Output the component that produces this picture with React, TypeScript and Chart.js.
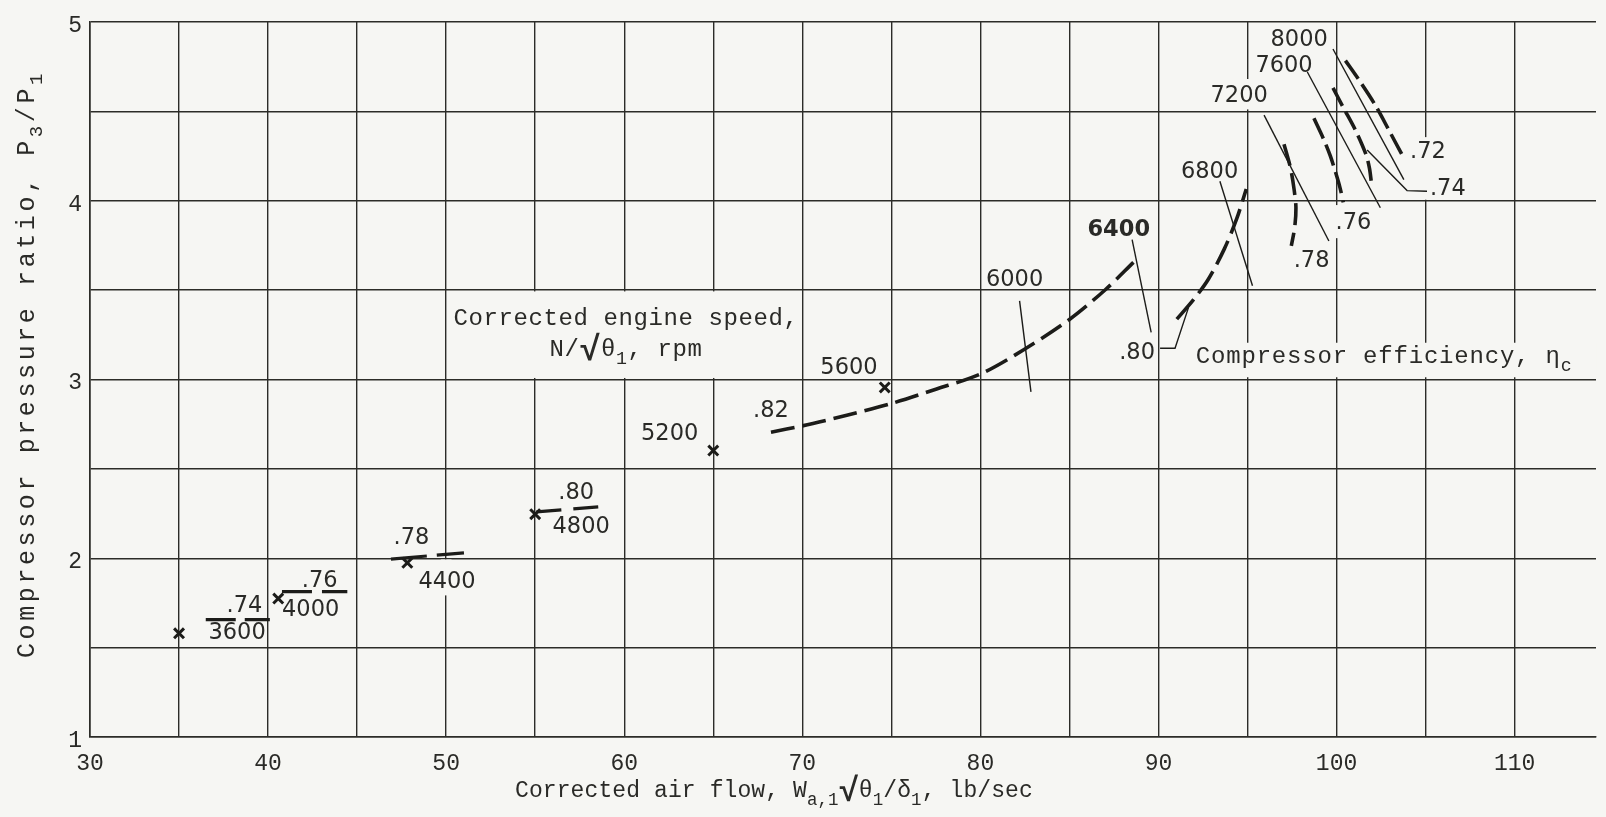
import React, { useEffect, useRef } from 'react';
import { Chart, registerables } from 'chart.js';

Chart.register(...registerables);

// ---------- data ----------
// Measured operating points (x = corrected air flow, y = pressure ratio)
const pointX = [35.0, 40.57, 47.82, 55.0, 65.0, 74.63];
const pointY = [1.58, 1.774, 1.974, 2.246, 2.602, 2.955];

// Efficiency contour 0.82 (long dashed curve)
const eff82X = [68.24, 70, 72.5, 75, 77.5, 80, 82.5, 85, 87, 88.6];
const eff82Y = [2.705, 2.74, 2.8, 2.865, 2.945, 3.03, 3.17, 3.335, 3.5, 3.655];

// Efficiency contour 0.80 at high speed
const eff80X = [91.03, 92.0, 92.8, 93.7, 94.4, 94.93];
const eff80Y = [3.337, 3.45, 3.56, 3.73, 3.9, 4.065];

// High-speed efficiency contours
const eff78X = [97.05, 97.42, 97.62, 97.72, 97.65, 97.46];
const eff78Y = [4.315, 4.18, 4.06, 3.96, 3.85, 3.747];
const eff76X = [98.73, 99.29, 99.65, 99.94, 100.2, 100.38];
const eff76Y = [4.46, 4.34, 4.25, 4.16, 4.07, 3.99];
const eff74X = [99.8, 100.41, 101.06, 101.66, 101.85, 101.96];
const eff74Y = [4.63, 4.515, 4.394, 4.256, 4.18, 4.098];
const eff72X = [100.5, 101.34, 102.18, 102.94, 103.68];
const eff72Y = [4.783, 4.663, 4.533, 4.394, 4.256];

// Short efficiency segments at low speeds (3600, 4000, 4400, 4800 rpm)
const lowEffX = [[36.5, 40.1], [40.78, 44.45], [46.9, 51.0], [55.07, 58.77]];
const lowEffY = [[1.657, 1.657], [1.813, 1.813], [1.995, 2.03], [2.259, 2.289]];

// Leader lines
const leaderX = [[82.2, 82.84], [88.52, 89.59], [90.09, 90.93, 91.68], [93.45, 95.28], [95.93, 99.57], [98.36, 102.46], [99.8, 103.78], [101.72, 103.96, 105.08]];
const leaderY = [[3.439, 2.93], [3.782, 3.263], [3.174, 3.174, 3.4], [4.108, 3.524], [4.478, 3.774], [4.719, 3.96], [4.848, 4.117], [4.283, 4.056, 4.052]];

// Speed labels
const speedLabels = ['3600', '4000', '4400', '4800', '5200', '5600', '6000', '6400', '6800', '7200', '7600', '8000'];
const speedLabelX = [38.26, 42.39, 50.05, 57.58, 62.55, 72.62, 81.92, 87.77, 92.87, 94.53, 97.05, 97.9];
const speedLabelY = [1.595, 1.721, 1.879, 2.186, 2.708, 3.074, 3.571, 3.848, 4.175, 4.597, 4.763, 4.909];

// Efficiency labels
const effLabels = ['.74', '.76', '.78', '.80', '.82', '.80', '.78', '.76', '.74', '.72'];
const effLabelX = [38.67, 42.9, 48.05, 57.3, 68.24, 88.8, 98.6, 100.95, 106.25, 105.13];
const effLabelY = [1.746, 1.885, 2.126, 2.378, 2.838, 3.161, 3.672, 3.885, 4.08, 4.283];

// Places where the grid is interrupted by lettering [x1, x2, y1, y2]
const gridGaps = [
  [50.08, 69.92, 3.008, 3.492],
  [94.7, 95.3, 4.51, 4.68],
  [99.7, 100.3, 3.79, 3.975],
  [104.7, 105.3, 4.005, 4.355],
  [92.5, 114.6, 3.012, 3.205],
  [49.7, 50.3, 1.792, 1.993],
];

// Axis ranges / ticks
const xMin = 30;
const xMax = 114.57;
const xStep = 5;
const xLabelEvery = 10;
const yMin = 1;
const yMax = 5;
const yStep = 0.5;

// ---------- styles ----------
const BG = '#f6f6f3';
const INK = '#1c1c19';
const GRID = '#2c2c28';
const TEXT = '#2a2a27';
const MONO = '"Liberation Mono", "DejaVu Sans Mono", monospace';
const SANS = '"DejaVu Sans", "Liberation Sans", sans-serif';

type Seg = { t: string; sub?: boolean; big?: boolean };

function drawRich(ctx: CanvasRenderingContext2D, segs: Seg[], x: number, y: number, size: number, spacing: number, align: 'left' | 'center') {
  const items = segs.map((s) => {
    const fs = s.sub ? size * 0.76 : s.big ? size * 1.45 : size;
    const font = `${s.big ? 'bold ' : ''}${fs}px ${MONO}`;
    const dy = s.sub ? size * 0.33 : s.big ? size * 0.16 : 0;
    return { t: s.t, font, dy };
  });
  let total = 0;
  for (const it of items) {
    ctx.font = it.font;
    for (const ch of it.t) total += ctx.measureText(ch).width + spacing;
  }
  let cx = align === 'center' ? x - total / 2 : x;
  ctx.textAlign = 'left';
  ctx.textBaseline = 'alphabetic';
  for (const it of items) {
    ctx.font = it.font;
    for (const ch of it.t) {
      ctx.fillText(ch, cx, y + it.dy);
      cx += ctx.measureText(ch).width + spacing;
    }
  }
}

const zip = (xs: number[], ys: number[]) => xs.map((x, i) => ({ x, y: ys[i] }));

const annotPlugin = {
  id: 'annot',
  beforeDraw(chart: any) {
    const ctx = chart.ctx;
    ctx.save();
    ctx.fillStyle = BG;
    ctx.fillRect(0, 0, chart.width, chart.height);
    ctx.restore();
  },
  beforeDatasetsDraw(chart: any) {
    const ctx = chart.ctx;
    const xs = chart.scales.x;
    const ys = chart.scales.y;
    ctx.save();
    ctx.fillStyle = BG;
    for (const g of gridGaps) {
      const x1 = xs.getPixelForValue(g[0]);
      const x2 = xs.getPixelForValue(g[1]);
      const y1 = ys.getPixelForValue(g[3]);
      const y2 = ys.getPixelForValue(g[2]);
      ctx.fillRect(x1, y1, x2 - x1, y2 - y1);
    }
    ctx.restore();
  },
  afterDatasetsDraw(chart: any) {
    const ctx = chart.ctx;
    const xs = chart.scales.x;
    const ys = chart.scales.y;
    const X = (v: number) => xs.getPixelForValue(v);
    const Y = (v: number) => ys.getPixelForValue(v);
    ctx.save();
    ctx.fillStyle = TEXT;
    ctx.textAlign = 'center';
    ctx.textBaseline = 'alphabetic';
    const size = 22.5;
    speedLabels.forEach((t, i) => {
      ctx.font = `${t === '6400' ? 'bold ' : ''}${size}px ${SANS}`;
      ctx.fillText(t, X(speedLabelX[i]), Y(speedLabelY[i]) + size * 0.365);
    });
    ctx.font = `${size}px ${SANS}`;
    effLabels.forEach((t, i) => {
      ctx.fillText(t, X(effLabelX[i]), Y(effLabelY[i]) + size * 0.365);
    });

    // Engine speed note
    drawRich(ctx, [{ t: 'Corrected engine speed,' }], X(60.1), Y(3.306), 24, 0.6, 'center');
    drawRich(ctx, [{ t: 'N/' }, { t: '√', big: true }, { t: 'θ' }, { t: '1', sub: true }, { t: ', rpm' }], X(60.1), Y(3.13), 24, 0.6, 'center');
    // Efficiency note
    drawRich(ctx, [{ t: 'Compressor efficiency, η' }, { t: 'c', sub: true }], X(92.1), Y(3.09), 24, 0.8, 'left');
    ctx.restore();
  },
  afterDraw(chart: any) {
    const ctx = chart.ctx;
    const area = chart.chartArea;
    ctx.save();
    ctx.fillStyle = TEXT;
    // x-axis title
    drawRich(
      ctx,
      [
        { t: 'Corrected air flow, W' },
        { t: 'a,1', sub: true },
        { t: '√', big: true },
        { t: 'θ' },
        { t: '1', sub: true },
        { t: '/δ' },
        { t: '1', sub: true },
        { t: ', lb/sec' },
      ],
      area.left + 425,
      area.bottom + 60,
      23,
      0.1,
      'left'
    );
    // y-axis title
    ctx.translate(34, 658);
    ctx.rotate(-Math.PI / 2);
    drawRich(
      ctx,
      [{ t: 'Compressor pressure ratio, P' }, { t: '3', sub: true }, { t: '/P' }, { t: '1', sub: true }],
      0,
      0,
      25,
      3.6,
      'left'
    );
    ctx.restore();
  },
};

export default function App() {
  const ref = useRef<HTMLCanvasElement | null>(null);

  useEffect(() => {
    if (!ref.current) return;
    const curve = (xs: number[], ys: number[], dash: number[]) => ({
      data: zip(xs, ys),
      showLine: true,
      borderColor: INK,
      borderWidth: 3.6,
      borderDash: dash,
      pointRadius: 0,
      tension: 0.3,
      fill: false,
    });
    const lowDashes = [[30, 9], [30, 10], [36, 10], [25, 12]];
    const datasets: any[] = [
      {
        data: zip(pointX, pointY),
        showLine: false,
        pointStyle: 'crossRot',
        pointRadius: 7,
        pointBorderWidth: 3,
        pointBorderColor: INK,
        borderColor: INK,
      },
      curve(eff82X, eff82Y, [24, 8]),
      curve(eff80X, eff80Y, [26, 8]),
      curve(eff78X, eff78Y, [22, 8]),
      curve(eff76X, eff76Y, [22, 7]),
      curve(eff74X, eff74Y, [20, 7]),
      curve(eff72X, eff72Y, [22, 7]),
      ...lowEffX.map((xs, i) => ({ ...curve(xs, lowEffY[i], lowDashes[i]), tension: 0, borderWidth: 3.2 })),
      ...leaderX.map((xs, i) => ({
        data: zip(xs, leaderY[i]),
        showLine: true,
        borderColor: INK,
        borderWidth: 1.4,
        pointRadius: 0,
        tension: 0,
        fill: false,
      })),
    ];

    const tickFont = { family: MONO, size: 23 };
    const chart = new Chart(ref.current, {
      type: 'scatter',
      data: { datasets },
      options: {
        responsive: false,
        animation: false,
        devicePixelRatio: 1,
        events: [],
        layout: { padding: { top: 16, left: 0, right: 0, bottom: 0 } },
        plugins: { legend: { display: false }, tooltip: { enabled: false } },
        scales: {
          x: {
            type: 'linear',
            position: 'bottom',
            min: xMin,
            max: xMax,
            afterFit: (s: any) => {
              s.height = 80;
            },
            ticks: {
              stepSize: xStep,
              includeBounds: false,
              autoSkip: false,
              maxRotation: 0,
              padding: 13,
              font: tickFont,
              color: TEXT,
              callback: (v: any) => (Number(v) % xLabelEvery === 0 ? String(v) : ''),
            },
            grid: { color: GRID, lineWidth: 1.4, drawTicks: false },
            border: { color: GRID, width: 1.6 },
          },
          y: {
            type: 'linear',
            min: yMin,
            max: yMax,
            afterFit: (s: any) => {
              s.width = 90;
            },
            ticks: {
              stepSize: yStep,
              includeBounds: false,
              autoSkip: false,
              padding: 8,
              labelOffset: 4,
              font: tickFont,
              color: TEXT,
              callback: (v: any) => (Number.isInteger(Number(v)) ? String(v) : ''),
            },
            grid: { color: GRID, lineWidth: 1.4, drawTicks: false },
            border: { color: GRID, width: 1.6 },
          },
        },
      } as any,
      plugins: [annotPlugin],
    });
    return () => chart.destroy();
  }, []);

  return (
    <div style={{ position: 'absolute', left: 0, top: 0, width: 1606, height: 817, background: BG, overflow: 'hidden' }}>
      <canvas ref={ref} width={1606} height={817} style={{ display: 'block' }} />
    </div>
  );
}
